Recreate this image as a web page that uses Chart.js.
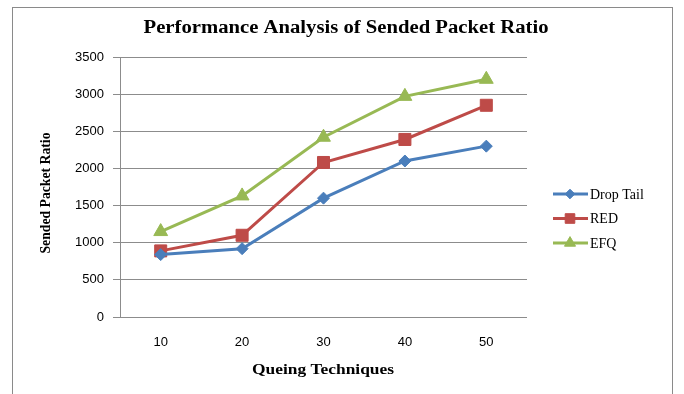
<!DOCTYPE html>
<html>
<head>
<meta charset="utf-8">
<script src="https://cdn.jsdelivr.net/npm/chart.js@4.4.0/dist/chart.umd.min.js"></script>
<style>
  html, body { margin: 0; padding: 0; background: #fff; }
  #wrap { width: 684px; height: 394px; }
</style>
</head>
<body>
<div id="wrap"><canvas id="chart" width="684" height="394"></canvas></div>
<script>
const categories = ['10', '20', '30', '40', '50'];
const dropTail = [840, 920, 1600, 2100, 2300];
const red = [890, 1100, 2080, 2390, 2850];
const efq = [1150, 1630, 2420, 2970, 3200];

const serif = '"Liberation Serif", "Times New Roman", serif';
const sans = '"Liberation Sans", Arial, sans-serif';
const colors = ['#4A7EBB', '#BE4B48', '#98B954'];

// text stretched sideways to a given width, like the Excel rendering
function wideText(ctx, text, x, y, width, angle) {
  const w = ctx.measureText(text).width;
  ctx.save();
  ctx.translate(x, y);
  if (angle) ctx.rotate(angle);
  ctx.scale(width / w, 1);
  ctx.fillText(text, 0, 0);
  ctx.restore();
}

// border, titles and legend drawn by hand
const decor = {
  id: 'decor',
  afterDraw(chart) {
    const ctx = chart.ctx;
    ctx.save();
    ctx.strokeStyle = '#8a8a8a';
    ctx.lineWidth = 1;
    ctx.strokeRect(12.5, 7.5, 660, 400);

    ctx.fillStyle = '#000';
    ctx.textAlign = 'center';
    ctx.textBaseline = 'middle';
    ctx.font = 'bold 18px ' + serif;
    wideText(ctx, 'Performance Analysis of Sended Packet Ratio', 346, 28, 405);

    ctx.font = 'bold 15px ' + serif;
    wideText(ctx, 'Queing Techniques', 323, 370, 142);

    ctx.font = 'bold 14px ' + serif;
    wideText(ctx, 'Sended Packet Ratio', 46, 193, 121, -Math.PI / 2);

    // legend: line + marker, then label
    ctx.textAlign = 'left';
    ctx.font = '14px ' + serif;
    chart.data.datasets.forEach((ds, i) => {
      const y = 194 + i * 24.5;
      ctx.strokeStyle = ds.borderColor;
      ctx.fillStyle = ds.backgroundColor;
      ctx.lineWidth = 3;
      ctx.beginPath();
      ctx.moveTo(553, y);
      ctx.lineTo(588, y);
      ctx.stroke();
      ctx.lineWidth = 1;
      Chart.helpers.drawPoint(ctx, {
        pointStyle: ds.pointStyle,
        radius: ds.pointRadius * 0.8,
        borderWidth: 1
      }, 570, y);
      ctx.fillStyle = '#000';
      ctx.fillText(ds.label, 590, y + 1);
    });
    ctx.restore();
  }
};

new Chart(document.getElementById('chart'), {
  type: 'line',
  data: {
    labels: categories,
    datasets: [{
      label: 'Drop Tail',
      data: dropTail,
      borderColor: colors[0],
      backgroundColor: colors[0],
      pointStyle: 'rectRot',
      pointRadius: 6
    }, {
      label: 'RED',
      data: red,
      borderColor: colors[1],
      backgroundColor: colors[1],
      pointStyle: 'rect',
      pointRadius: 8.5
    }, {
      label: 'EFQ',
      data: efq,
      borderColor: colors[2],
      backgroundColor: colors[2],
      pointStyle: 'triangle',
      pointRadius: 8
    }]
  },
  options: {
    responsive: false,
    animation: false,
    elements: {
      line: { borderWidth: 3, tension: 0 },
      point: { borderWidth: 1 }
    },
    layout: { padding: { left: 0, top: 57, right: 157, bottom: 0 } },
    plugins: {
      legend: { display: false },
      title: { display: false },
      tooltip: { enabled: false }
    },
    scales: {
      x: {
        offset: true,
        grid: { display: false, drawTicks: false },
        border: { display: false },
        ticks: { color: '#000', font: { family: sans, size: 13 }, padding: 18 },
        afterFit(scale) { scale.height = 77; }
      },
      y: {
        min: 0,
        max: 3500,
        grid: { color: '#8c8c8c', tickLength: 7 },
        border: { color: '#8c8c8c' },
        ticks: {
          stepSize: 500,
          color: '#000',
          font: { family: sans, size: 13 },
          padding: 9,
          callback: v => String(v)
        },
        afterFit(scale) { scale.width = 120; }
      }
    }
  },
  plugins: [decor]
});
</script>
</body>
</html>
